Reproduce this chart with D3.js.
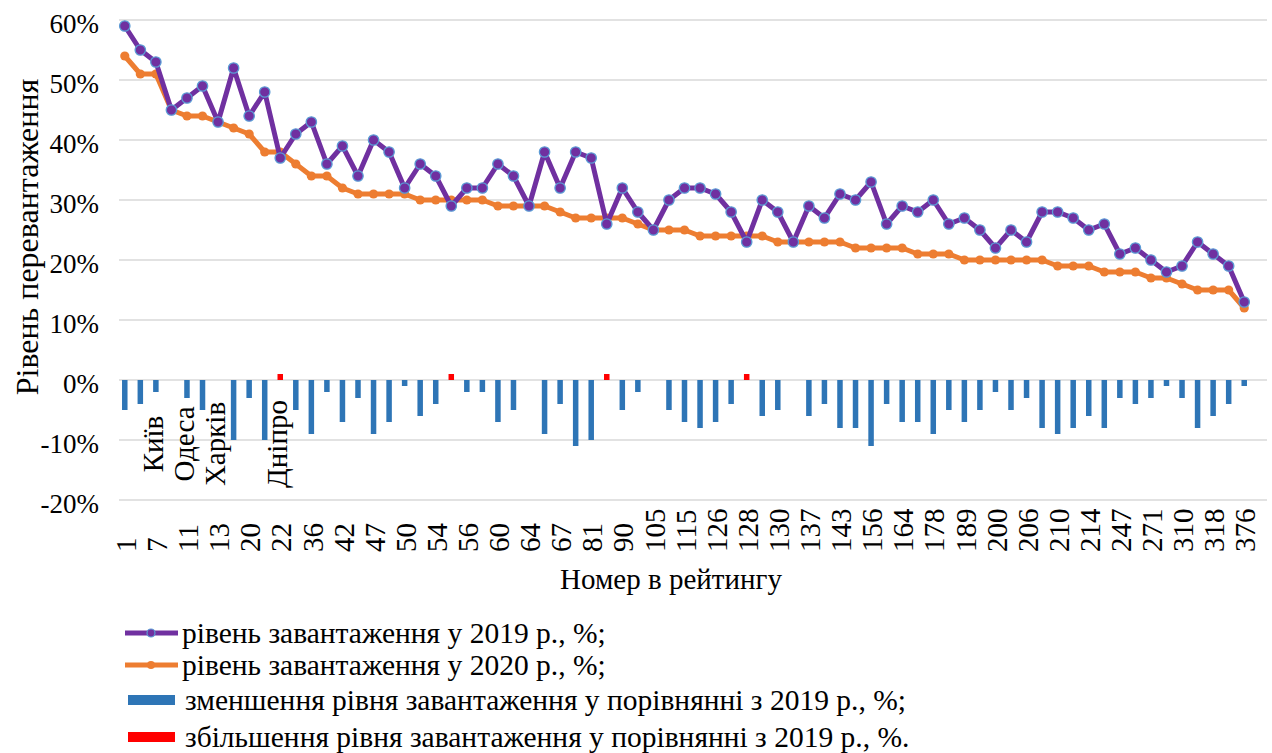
<!DOCTYPE html>
<html><head><meta charset="utf-8"><script src="https://cdn.jsdelivr.net/npm/d3@7"></script></head>
<body style="margin:0">
<script>
// rank labels (every other one is shown on the axis)
var ranks = ["1","4","7","9","11","12","13","16","20","21","22","31","36","40","42","45","47","48","50","53","54","55","56","58","60","62","64","66","67","74","81","85","90","98","105","110","115","120","126","127","128","129","130","133","137","140","143","150","156","160","164","170","178","185","189","195","200","203","206","208","210","212","214","230","247","260","271","290","310","315","318","350","376"]
var load2019 = [59,55,53,45,47,49,43,52,44,48,37,41,43,36,39,34,40,38,32,36,34,29,32,32,36,34,29,38,32,38,37,26,32,28,25,30,32,32,31,28,23,30,28,23,29,27,31,30,33,26,29,28,30,26,27,25,22,25,23,28,28,27,25,26,21,22,20,18,19,23,21,19,13]
var load2020 = [54,51,51,45,44,44,43,42,41,38,38,36,34,34,32,31,31,31,31,30,30,30,30,30,29,29,29,29,28,27,27,27,27,26,25,25,25,24,24,24,24,24,23,23,23,23,23,22,22,22,22,21,21,21,20,20,20,20,20,20,19,19,19,18,18,18,17,17,16,15,15,15,12]
var cities = [{i: 2, name: "Київ"}, {i: 4, name: "Одеса"}, {i: 6, name: "Харків"}, {i: 10, name: "Дніпро"}]
var yTicks = [-20,-10,0,10,20,30,40,50,60]
var legendItems = ["рівень завантаження у 2019 р., %;", "рівень завантаження у 2020 р., %;",
  "зменшення рівня завантаження у порівнянні з 2019 р., %;", "збільшення рівня завантаження у порівнянні з 2019 р., %."]

var W = 1272, H = 753
var purple = "#7030A0", orange = "#ED7D31", blue = "#2E75B6", red = "#FF0000"
var serif = "'Liberation Serif'"

var svg = d3.select("body").append("svg").attr("width", W).attr("height", H)

var x = d3.scaleBand().domain(d3.range(ranks.length)).range([117, 1252]).padding(0)
var y = d3.scaleLinear().domain([-20, 60]).range([500, 20])
var cx = function(i) { return x(i) + x.bandwidth() / 2 }

// gridlines
svg.append("g").selectAll("line").data(yTicks).join("line")
    .attr("x1", 119).attr("x2", 1267)
    .attr("y1", d => y(d)).attr("y2", d => y(d))
    .attr("stroke", "#d9d9d9").attr("stroke-width", 1.3)

// y tick labels
svg.append("g").selectAll("text").data(yTicks).join("text")
    .attr("x", 99).attr("y", d => y(d) + 4)
    .attr("text-anchor", "end").attr("dy", "0.35em")
    .attr("font-size", 27)
    .style("font-family", d => serif)
    .text(d => d + "%")

// change bars
var change = load2019.map((v, i) => load2020[i] - v)
svg.append("g").selectAll("rect").data(change).join("rect")
    .attr("x", (d, i) => cx(i) - 2.75)
    .attr("width", 5.5)
    .attr("y", d => y(Math.max(0, d)))
    .attr("height", d => Math.abs(y(d) - y(0)))
    .attr("fill", d => d < 0 ? blue : red)

// lines
var line = d3.line().x((d, i) => cx(i)).y(d => y(d))

svg.append("path").datum(load2020)
    .attr("d", line).attr("fill", "none")
    .attr("stroke", orange).attr("stroke-width", 5).attr("stroke-linejoin", "round")
svg.append("g").selectAll("circle").data(load2020).join("circle")
    .attr("cx", (d, i) => cx(i)).attr("cy", d => y(d)).attr("r", 4.6)
    .attr("fill", orange)

svg.append("path").datum(load2019)
    .attr("d", line).attr("fill", "none")
    .attr("stroke", purple).attr("stroke-width", 5).attr("stroke-linejoin", "round")
svg.append("g").selectAll("circle").data(load2019).join("circle")
    .attr("cx", (d, i) => cx(i)).attr("cy", d => y(d)).attr("r", 5.2)
    .attr("fill", purple).attr("stroke", "#5B9BD5").attr("stroke-width", 1.3)

// x tick labels, every other rank
svg.append("g").selectAll("text").data(ranks.filter((d, i) => i % 2 == 0)).join("text")
    .attr("transform", (d, k) => "translate(" + (cx(k * 2) + 1) + ",552) rotate(-90)")
    .attr("dy", "0.35em")
    .attr("font-size", 29)
    .style("font-family", d => serif)
    .text(d => d)

// city names
svg.append("g").selectAll("text").data(cities).join("text")
    .attr("transform", d => "translate(" + (cx(d.i) - 3) + ",444) rotate(-90)")
    .attr("text-anchor", "middle").attr("dy", "0.35em")
    .attr("font-size", 29)
    .style("font-family", d => serif)
    .text(d => d.name)

// axis titles
svg.append("text")
    .attr("x", 671).attr("y", 589)
    .attr("text-anchor", "middle")
    .attr("font-size", 29)
    .style("font-family", serif)
    .text("Номер в рейтингу")
svg.append("text")
    .attr("transform", "translate(27,237) rotate(-90)")
    .attr("text-anchor", "middle").attr("dy", "0.35em")
    .attr("font-size", 32)
    .style("font-family", serif)
    .text("Рівень перевантаження")

// legend
var lg = svg.append("g")
var rowsY = [633, 665, 700, 737]
lg.append("line").attr("x1", 125).attr("x2", 178).attr("y1", rowsY[0]).attr("y2", rowsY[0])
    .attr("stroke", purple).attr("stroke-width", 5)
lg.append("circle").attr("cx", 151).attr("cy", rowsY[0]).attr("r", 4)
    .attr("fill", purple).attr("stroke", "#5B9BD5").attr("stroke-width", 1.2)
lg.append("line").attr("x1", 125).attr("x2", 178).attr("y1", rowsY[1]).attr("y2", rowsY[1])
    .attr("stroke", orange).attr("stroke-width", 5)
lg.append("circle").attr("cx", 151).attr("cy", rowsY[1]).attr("r", 4).attr("fill", orange)
lg.append("rect").attr("x", 128).attr("y", rowsY[2] - 5).attr("width", 47).attr("height", 10).attr("fill", blue)
lg.append("rect").attr("x", 128).attr("y", rowsY[3] - 5).attr("width", 47).attr("height", 10).attr("fill", red)

lg.selectAll("text").data(legendItems).join("text")
    .attr("x", (d, i) => i < 2 ? 182 : 185).attr("y", (d, i) => rowsY[i])
    .attr("dy", "0.35em")
    .attr("font-size", 29.5)
    .style("font-family", d => serif)
    .text(d => d)
</script>
</body>
</html>
